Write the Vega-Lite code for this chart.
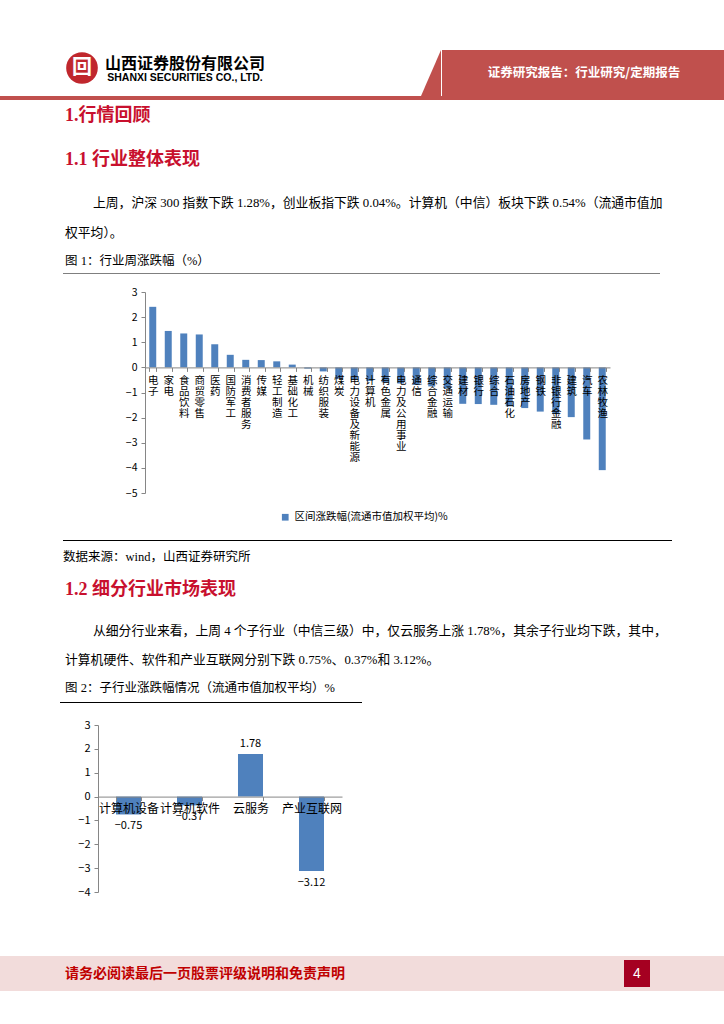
{
  "$schema": "https://vega.github.io/schema/vega-lite/v6.json",
  "background": "white",
  "padding": 0,
  "spacing": 0,
  "config": {"view": {"stroke": null}, "font": "Noto Sans CJK SC", "concat": {"spacing": 0}},
  "vconcat": [
    {"width": 724, "height": 50, "data": {"values": []}, "mark": "text", "encoding": {}},
    {
      "spacing": 0,
      "hconcat": [
        {"width": 66, "height": 46, "data": {"values": []}, "mark": "text", "encoding": {}},
        {
          "width": 32, "height": 36,
          "data": {"values": [{"t": "回"}]},
          "layer": [
            {"mark": {"type": "point", "shape": "circle", "size": 1000, "filled": true, "color": "#c0272d", "opacity": 1}, "encoding": {}},
            {"mark": {"type": "text", "fontSize": 20, "fontWeight": "bold", "color": "white"}, "encoding": {"text": {"field": "t"}}}
          ]
        },
        {
          "spacing": 0,
          "vconcat": [
            {"width": 174, "height": 5, "data": {"values": []}, "mark": "text", "encoding": {}},
            {"width": 174, "height": 17, "data": {"values": [{"t": "山西证券股份有限公司"}]},
              "mark": {"type": "text", "fontSize": 16, "fontWeight": "bold", "color": "#000000", "font": "Noto Sans CJK SC"},
              "encoding": {"text": {"field": "t"}}},
            {"width": 174, "height": 12, "data": {"values": [{"t": "SHANXI SECURITIES CO., LTD."}]},
              "mark": {"type": "text", "fontSize": 10.5, "fontWeight": "bold", "color": "#000000", "font": "Liberation Sans"},
              "encoding": {"text": {"field": "t"}}}
          ]
        },
        {"width": 148, "height": 46, "data": {"values": []}, "mark": "text", "encoding": {}},
        {
          "width": 20, "height": 46,
          "data": {"values": [{}]},
          "mark": {"type": "point", "shape": "M0.435,-1L0.435,1L-0.435,1Z", "size": 2116, "filled": true, "color": "#c0504d", "opacity": 1, "strokeWidth": 0},
          "encoding": {}
        },
        {
          "width": 284, "height": 46, "view": {"fill": "#c0504d"},
          "data": {"values": [{"t": "证券研究报告：行业研究/定期报告"}]},
          "mark": {"type": "text", "color": "white", "fontSize": 12.5, "fontWeight": "bold"},
          "encoding": {"text": {"field": "t"}}
        }
      ]
    },
    {"width": 724, "height": 4, "view": {"fill": "#c0504d"}, "data": {"values": []}, "mark": "text", "encoding": {}},
    {"width": 724, "height": 4, "data": {"values": []}, "mark": "text", "encoding": {}},
    {"width": 130, "height": 24, "data": {"values": [{"t": "1.行情回顾"}]},
      "mark": {"type": "text", "align": "left", "fontSize": 18, "fontWeight": "bold", "color": "#c8102e", "font": "'Liberation Serif', 'Noto Sans CJK SC'"},
      "encoding": {"text": {"field": "t"}}},
    {"width": 724, "height": 20, "data": {"values": []}, "mark": "text", "encoding": {}},
    {"width": 130, "height": 24, "data": {"values": [{"t": "1.1 行业整体表现"}]},
      "mark": {"type": "text", "align": "left", "fontSize": 18, "fontWeight": "bold", "color": "#c8102e", "font": "'Liberation Serif', 'Noto Sans CJK SC'"},
      "encoding": {"text": {"field": "t"}}},
    {"width": 724, "height": 16, "data": {"values": []}, "mark": "text", "encoding": {}},
    {"width": 186, "height": 30, "data": {"values": [{"t": "上周，沪深 300 指数下跌 1.28%，创业板指下跌 0.04%。计算机（中信）板块下跌 0.54%（流通市值加"}]},
      "mark": {"type": "text", "align": "left", "fontSize": 12.8, "color": "#000000", "font": "'Liberation Serif', 'Noto Sans CJK SC'"},
      "encoding": {"text": {"field": "t"}}},
    {"width": 130, "height": 30, "data": {"values": [{"t": "权平均）。"}]},
      "mark": {"type": "text", "align": "left", "fontSize": 12.8, "color": "#000000", "font": "'Liberation Serif', 'Noto Sans CJK SC'"},
      "encoding": {"text": {"field": "t"}}},
    {"width": 130, "height": 25, "data": {"values": [{"t": "图 1：行业周涨跌幅（%）"}]},
      "mark": {"type": "text", "align": "left", "fontSize": 12.5, "color": "#000000", "font": "'Liberation Serif', 'Noto Sans CJK SC'"},
      "encoding": {"text": {"field": "t"}}},
    {
      "bounds": "flush", "spacing": 0,
      "hconcat": [
        {"width": 63, "height": 1, "data": {"values": []}, "mark": "text", "encoding": {}},
        {"width": 597, "height": 1, "view": {"fill": "#7f7f7f"}, "data": {"values": []}, "mark": "text", "encoding": {}}
      ]
    },
    {"width": 724, "height": 13, "data": {"values": []}, "mark": "text", "encoding": {}},
    {
      "bounds": "flush", "spacing": 0,
      "hconcat": [
        {"width": 145, "height": 201, "data": {"values": []}, "mark": "text", "encoding": {}},
        {
          "width": 465, "height": 201,
          "data": {"values": [
            {"industry": "电子", "chg": 2.41},
            {"industry": "家电", "chg": 1.45},
            {"industry": "食品饮料", "chg": 1.35},
            {"industry": "商贸零售", "chg": 1.31},
            {"industry": "医药", "chg": 0.92},
            {"industry": "国防军工", "chg": 0.5},
            {"industry": "消费者服务", "chg": 0.3},
            {"industry": "传媒", "chg": 0.29},
            {"industry": "轻工制造", "chg": 0.24},
            {"industry": "基础化工", "chg": 0.11},
            {"industry": "机械", "chg": -0.05},
            {"industry": "纺织服装", "chg": -0.16},
            {"industry": "煤炭", "chg": -0.45},
            {"industry": "电力设备及新能源", "chg": -0.5},
            {"industry": "计算机", "chg": -0.54},
            {"industry": "有色金属", "chg": -0.6},
            {"industry": "电力及公用事业", "chg": -0.64},
            {"industry": "通信", "chg": -0.7},
            {"industry": "综合金融", "chg": -0.76},
            {"industry": "交通运输", "chg": -0.85},
            {"industry": "建材", "chg": -1.45},
            {"industry": "银行", "chg": -1.46},
            {"industry": "综合", "chg": -1.49},
            {"industry": "石油石化", "chg": -1.55},
            {"industry": "房地产", "chg": -1.62},
            {"industry": "钢铁", "chg": -1.76},
            {"industry": "非银行金融", "chg": -1.86},
            {"industry": "建筑", "chg": -1.98},
            {"industry": "汽车", "chg": -2.87},
            {"industry": "农林牧渔", "chg": -4.09}
          ]},
          "mark": {"type": "bar"},
          "encoding": {
            "x": {"field": "industry", "type": "nominal", "sort": null,
              "scale": {"paddingInner": 0.55, "paddingOuter": 0.275},
              "axis": {"title": null, "orient": "bottom", "offset": -125.6, "zindex": 1, "labelAngle": 0,
                "labelExpr": "split(datum.label, '')", "labelLineHeight": 11, "labelFontSize": 10.5, "labelColor": "#000000",
                "labelBaseline": "top", "labelAlign": "center", "labelPadding": 4, "labelOverlap": false, "labelBound": false, "labelFlush": false,
                "domainColor": "#868686", "tickColor": "#868686", "tickBand": "extent", "tickSize": 4}},
            "y": {"field": "chg", "type": "quantitative",
              "scale": {"domain": [-5, 3], "nice": false, "zero": false},
              "axis": {"title": null, "values": [-5, -4, -3, -2, -1, 0, 1, 2, 3], "grid": false, "domainColor": "#868686", "tickColor": "#868686", "tickSize": 4,
                "labelFontSize": 10.5, "labelColor": "#000000", "labelPadding": 4}},
            "color": {"datum": "区间涨跌幅(流通市值加权平均)%", "type": "nominal", "scale": {"range": ["#4f81bd"]},
              "legend": {"title": null, "orient": "none", "legendX": 280, "legendY": 512, "symbolType": "square", "symbolSize": 45,
                "labelFontSize": 10.5, "labelColor": "#000000", "symbolStrokeWidth": 0}}
          }
        },
        {"width": 114, "height": 248, "data": {"values": []}, "mark": "text", "encoding": {}}
      ]
    },
    {
      "bounds": "flush", "spacing": 0,
      "hconcat": [
        {"width": 63, "height": 1, "data": {"values": []}, "mark": "text", "encoding": {}},
        {"width": 609, "height": 1, "view": {"fill": "#000000"}, "data": {"values": []}, "mark": "text", "encoding": {}}
      ]
    },
    {"width": 126, "height": 32, "data": {"values": [{"t": "数据来源：wind，山西证券研究所"}]},
      "mark": {"type": "text", "align": "left", "fontSize": 12.5, "color": "#000000", "font": "'Liberation Serif', 'Noto Sans CJK SC'"},
      "encoding": {"text": {"field": "t"}}},
    {"width": 130, "height": 34, "data": {"values": [{"t": "1.2 细分行业市场表现"}]},
      "mark": {"type": "text", "align": "left", "fontSize": 18, "fontWeight": "bold", "color": "#c8102e", "font": "'Liberation Serif', 'Noto Sans CJK SC'"},
      "encoding": {"text": {"field": "t"}}},
    {"width": 724, "height": 9, "data": {"values": []}, "mark": "text", "encoding": {}},
    {"width": 186, "height": 30, "data": {"values": [{"t": "从细分行业来看，上周 4 个子行业（中信三级）中，仅云服务上涨 1.78%，其余子行业均下跌，其中，"}]},
      "mark": {"type": "text", "align": "left", "fontSize": 12.8, "color": "#000000", "font": "'Liberation Serif', 'Noto Sans CJK SC'"},
      "encoding": {"text": {"field": "t"}}},
    {"width": 130, "height": 28, "data": {"values": [{"t": "计算机硬件、软件和产业互联网分别下跌 0.75%、0.37%和 3.12%。"}]},
      "mark": {"type": "text", "align": "left", "fontSize": 12.8, "color": "#000000", "font": "'Liberation Serif', 'Noto Sans CJK SC'"},
      "encoding": {"text": {"field": "t"}}},
    {"width": 130, "height": 28, "data": {"values": [{"t": "图 2：子行业涨跌幅情况（流通市值加权平均）%"}]},
      "mark": {"type": "text", "align": "left", "fontSize": 12.5, "color": "#000000", "font": "'Liberation Serif', 'Noto Sans CJK SC'"},
      "encoding": {"text": {"field": "t"}}},
    {
      "bounds": "flush", "spacing": 0,
      "hconcat": [
        {"width": 60, "height": 1, "data": {"values": []}, "mark": "text", "encoding": {}},
        {"width": 302, "height": 1, "view": {"fill": "#000000"}, "data": {"values": []}, "mark": "text", "encoding": {}}
      ]
    },
    {"width": 724, "height": 16, "data": {"values": []}, "mark": "text", "encoding": {}},
    {
      "bounds": "flush", "spacing": 0,
      "hconcat": [
        {"width": 98, "height": 167, "data": {"values": []}, "mark": "text", "encoding": {}},
        {
          "width": 244, "height": 167,
          "data": {"values": [
            {"sub": "计算机设备", "chg": -0.75},
            {"sub": "计算机软件", "chg": -0.37},
            {"sub": "云服务", "chg": 1.78},
            {"sub": "产业互联网", "chg": -3.12}
          ]},
          "encoding": {
            "x": {"field": "sub", "type": "nominal", "sort": null,
              "scale": {"paddingInner": 0.59, "paddingOuter": 0.295},
              "axis": {"title": null, "orient": "bottom", "offset": -95.4, "zindex": 1, "labelAngle": 0, "labelFontSize": 12, "labelColor": "#000000",
                "labelBaseline": "top", "labelAlign": "center", "labelPadding": 3, "labelOverlap": false, "labelBound": false, "labelFlush": false,
                "domainColor": "#868686", "tickColor": "#868686", "tickBand": "extent", "tickSize": 4}},
            "y": {"field": "chg", "type": "quantitative",
              "scale": {"domain": [-4, 3], "nice": false, "zero": false},
              "axis": {"title": null, "values": [-4, -3, -2, -1, 0, 1, 2, 3], "grid": false, "domainColor": "#868686", "tickColor": "#868686", "tickSize": 4,
                "labelFontSize": 11, "labelColor": "#000000", "labelPadding": 4}}
          },
          "layer": [
            {"mark": {"type": "bar", "color": "#4f81bd"}},
            {"transform": [{"filter": "datum.chg >= 0"}], "mark": {"type": "text", "baseline": "bottom", "dy": -5, "fontSize": 11, "color": "#000000"},
              "encoding": {"text": {"field": "chg", "type": "quantitative", "format": ".2f"}}},
            {"transform": [{"filter": "datum.chg < 0"}], "mark": {"type": "text", "baseline": "top", "dy": 6, "fontSize": 11, "color": "#000000"},
              "encoding": {"text": {"field": "chg", "type": "quantitative", "format": ".2f"}}}
          ]
        },
        {"width": 382, "height": 231, "data": {"values": []}, "mark": "text", "encoding": {}}
      ]
    },
    {
      "spacing": 0,
      "hconcat": [
        {"width": 60, "height": 35, "view": {"fill": "#f2dcdb"}, "data": {"values": []}, "mark": "text", "encoding": {}},
        {"width": 290, "height": 35, "view": {"fill": "#f2dcdb"},
          "data": {"values": [{"t": "请务必阅读最后一页股票评级说明和免责声明"}]},
          "mark": {"type": "text", "color": "#c00000", "fontSize": 14, "fontWeight": "bold", "font": "Noto Sans CJK SC"},
          "encoding": {"text": {"field": "t"}}},
        {"width": 274, "height": 35, "view": {"fill": "#f2dcdb"}, "data": {"values": []}, "mark": "text", "encoding": {}},
        {
          "spacing": 0,
          "vconcat": [
            {"width": 26, "height": 4, "view": {"fill": "#f2dcdb"}, "data": {"values": []}, "mark": "text", "encoding": {}},
            {"width": 26, "height": 27, "view": {"fill": "#a50021"}, "data": {"values": [{"t": "4"}]},
              "mark": {"type": "text", "color": "white", "fontSize": 14, "font": "Liberation Sans"}, "encoding": {"text": {"field": "t"}}},
            {"width": 26, "height": 4, "view": {"fill": "#f2dcdb"}, "data": {"values": []}, "mark": "text", "encoding": {}}
          ]
        },
        {"width": 74, "height": 35, "view": {"fill": "#f2dcdb"}, "data": {"values": []}, "mark": "text", "encoding": {}}
      ]
    },
    {"width": 724, "height": 34, "data": {"values": []}, "mark": "text", "encoding": {}}
  ]
}
